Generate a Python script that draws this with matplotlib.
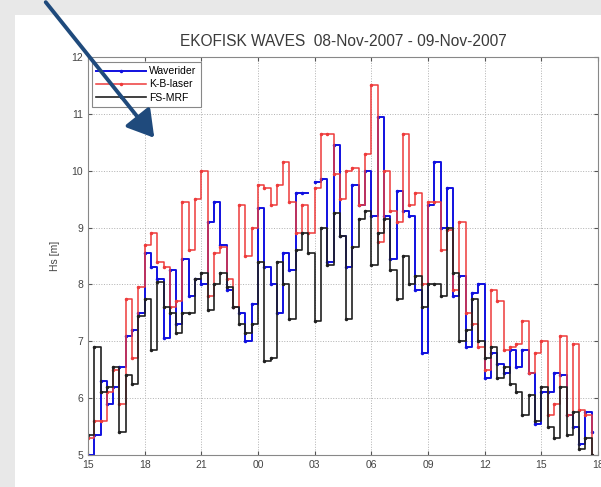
import numpy as np
import matplotlib
matplotlib.use('Agg')
import matplotlib.pyplot as plt
from matplotlib.patches import Rectangle, FancyArrowPatch

plt.rcParams['font.family'] = ['Liberation Sans', 'DejaVu Sans']

# Hs [m], 20-minute samples from 08-Nov 15:00 to 09-Nov 18:00 (3 per hour)
waverider = [
    5.0, 5.35, 6.3,    5.9, 6.2, 6.55,    7.1, 7.2, 7.5,
    8.55, 8.3, 8.1,    7.05, 8.25, 7.3,   8.45, 7.8, 8.1,
    8.0, 9.1, 9.45,    8.7, 7.9, 7.6,     7.5, 7.0, 7.65,
    9.35, 8.3, 8.0,    7.5, 8.55, 8.25,   9.6, 9.6, np.nan,
    9.8, 9.85, 8.4,    10.45, 8.85, 8.3,  9.75, 9.4, 10.0,
    9.2, 10.95, 9.2,   8.45, 9.65, 9.3,   9.2, 7.9, 6.8,
    9.4, 10.15, 9.0,   9.7, 7.8, 8.15,    6.9, 7.85, 8.0,
    6.35, 6.8, 6.6,    6.45, 6.85, 6.55,  6.85, 6.45, 5.55,
    6.1, 6.1, 6.45,    6.4, 5.7, 5.5,     5.2, 5.75, 5.4,
]
kb_laser = [
    5.3, 5.6, 5.6,     6.1, 6.5, 5.9,     7.75, 6.7, 7.95,
    8.7, 8.9, 8.4,     8.3, 7.6, 7.7,     9.45, 8.6, 9.5,
    10.0, 7.8, 8.55,   8.65, 8.1, 7.6,    9.4, 8.5, 9.0,
    9.75, 9.7, 9.4,    9.75, 10.15, 9.45, 8.9, 9.4, 8.9,
    9.7, 10.65, 10.65, 9.95, 9.5, 10.0,   10.05, 9.4, 10.3,
    11.5, 8.75, 10.0,  9.3, 9.1, 10.65,   9.4, 9.6, 8.0,
    9.45, 9.45, 8.6,   8.95, 7.9, 9.1,    7.5, 7.3, 6.9,
    6.5, 7.9, 7.7,     6.85, 6.9, 6.95,   7.35, 6.45, 6.8,
    7.0, 5.7, 5.9,     7.1, 5.7, 6.95,    5.8, 5.7, 5.0,
]
fs_mrf = [
    5.35, 6.9, 6.1,    6.2, 6.55, 5.4,    6.4, 6.25, 7.45,
    7.75, 6.85, 8.05,  7.6, 7.5, 7.15,    7.5, 7.5, 8.1,
    8.2, 7.55, 8.0,    8.2, 7.95, 7.6,    7.3, 7.15, 7.3,
    8.4, 6.65, 6.7,    8.4, 8.0, 7.4,     8.6, 8.9, 8.55,
    7.35, 9.0, 8.35,   9.25, 8.85, 7.4,   8.65, 9.15, 9.3,
    8.35, 8.9, 9.15,   8.25, 7.75, 8.5,   8.0, 8.15, 7.6,
    8.0, 8.0, 7.8,     9.0, 8.2, 7.0,     7.2, 7.75, 7.0,
    6.7, 6.9, 6.35,    6.55, 6.25, 6.1,   5.7, 6.05, 5.6,
    6.2, 5.5, 5.3,     6.2, 5.35, 5.75,   5.1, 5.3, 5.0,
]
hour_labels = ['15', '18', '21', '00', '03', '06', '09', '12', '15', '18']

t = np.arange(len(waverider)) / 3.0  # hours since 15:00

fig = plt.figure(figsize=(6.01, 4.87), dpi=100, facecolor='#e8e8e8')
fig.patches.append(Rectangle((15 / 601, 0), 1, 1 - 15 / 487, transform=fig.transFigure,
                             facecolor='white', edgecolor='none', zorder=-10))

ax = fig.add_axes([88 / 601, 1 - 455 / 487, 510 / 601, 398 / 487])
ax.plot(t, waverider, color='#1010e0', lw=1.4, marker='.', ms=3, drawstyle='steps-post', label='Waverider')
ax.plot(t, kb_laser, color='#ee3b3b', lw=1.1, marker='.', ms=3, drawstyle='steps-post', label='K-B-laser')
ax.plot(t, fs_mrf, color='#202020', lw=1.2, marker='.', ms=3, drawstyle='steps-post', label='FS-MRF')

ax.set_xlim(0, 27)
ax.set_ylim(5, 12)
ax.set_xticks(np.arange(0, 28, 3))
ax.set_xticklabels(hour_labels)
ax.set_yticks(range(5, 13))
ax.grid(True, linestyle=':', color='#b0b0b0', lw=0.7)
ax.tick_params(direction='in', length=3, labelsize=7.5, colors='#555555', labelcolor='#444444',
               top=True, right=True)
for s in ax.spines.values():
    s.set_color('#888888')
ax.set_ylabel('Hs [m]', fontsize=7.5, color='#444444', labelpad=8)
ax.set_title('EKOFISK WAVES  08-Nov-2007 - 09-Nov-2007', fontsize=11.2, color='#3a3a3a', pad=8)

leg = ax.legend(loc='upper left', bbox_to_anchor=(0.008, 0.987), borderaxespad=0,
                fontsize=7.5, handlelength=4.8, handletextpad=0.3, labelspacing=0.3,
                borderpad=0.4, fancybox=False, framealpha=1)
leg.get_frame().set_edgecolor('#888888')
leg.get_frame().set_linewidth(0.8)

arrow = FancyArrowPatch((44 / 601, 1.0), (156 / 601, 1 - 140 / 487), transform=fig.transFigure,
                        arrowstyle='-|>,head_length=10,head_width=6', mutation_scale=1.6,
                        color='#1f4a7c', lw=2.8, zorder=10)
fig.patches.append(arrow)

fig.savefig('out.png', dpi=100, facecolor=fig.get_facecolor())
